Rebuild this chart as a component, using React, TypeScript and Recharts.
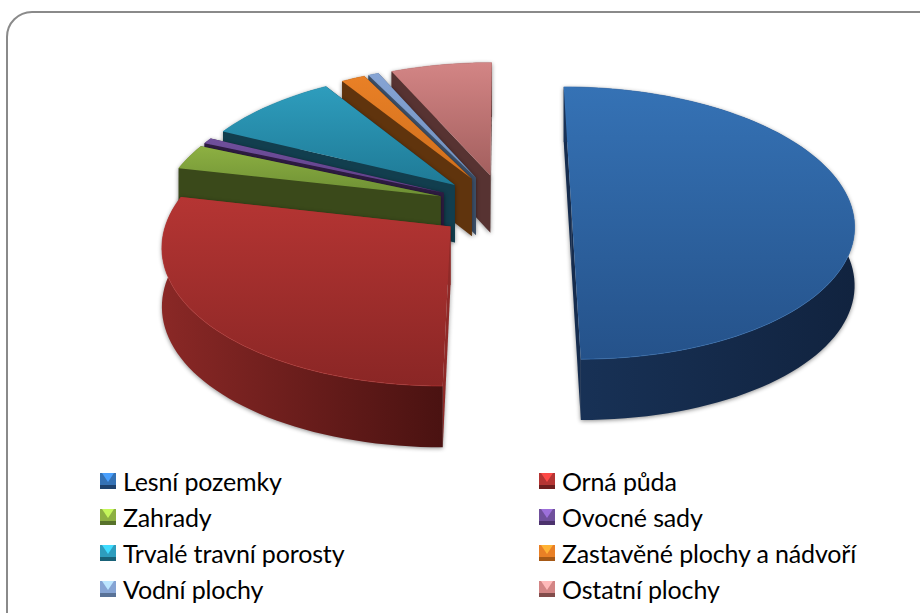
import { PieChart, Pie, Legend } from 'recharts';

const categories = [
  'Lesní pozemky',
  'Orná půda',
  'Zahrady',
  'Ovocné sady',
  'Trvalé travní porosty',
  'Zastavěné plochy a nádvoří',
  'Vodní plochy',
  'Ostatní plochy',
];
const values = [50, 28.5, 3, 0.7, 8.8, 1.6, 0.7, 6.7];

// top gradient (light, dark), wall gradient (left, right), cut face
const topLight = ['#3572b5', '#b53533', '#8db042', '#70509c', '#2e9dbd', '#e98026', '#86a4d4', '#d38585'];
const topDark = ['#25528a', '#8a2625', '#6d8f34', '#5f3f88', '#1f7a96', '#d06f1c', '#6f8fbd', '#a35f5e'];
const wallLeft = ['#183257', '#8a2826', '#3a491a', '#2e1c42', '#123e4e', '#60340d', '#3d5069', '#573332'];
const wallRight = ['#11233f', '#4a1211', '#3a491a', '#2e1c42', '#123e4e', '#60340d', '#3d5069', '#573332'];
const cutFace = ['#152c4e', '#8f2a28', '#3a491a', '#2e1c42', '#123e4e', '#60340d', '#3d5069', '#573332'];

// painted back to front, so the table runs the other way round the pie
const pieData = categories.map((name, i) => ({ name, value: values[i] })).reverse();

// fake 3D projection
const SQUASH = 0.4786;
const PERSP = 0.125;
const EXPLODE = 0.24;
const DEPTH = 58;

function Slice3D(props: any) {
  const { cx, cy, outerRadius: R, startAngle, endAngle, name } = props;
  const i = categories.indexOf(name);
  const rad = Math.PI / 180;
  const mid = ((startAngle + endAngle) / 2) * rad;
  const eu = EXPLODE * Math.cos(mid);
  const ev = -EXPLODE * Math.sin(mid);

  const project = (u: number, v: number, z: number) => {
    const den = 1 - PERSP * v;
    const x = cx + (R * u) / den;
    const y = cy + (R * SQUASH * v) / den + DEPTH * z * (1 + 0.05 * v);
    return `${x.toFixed(2)},${y.toFixed(2)}`;
  };
  const rim = (z: number) => {
    const pts: string[] = [];
    const steps = Math.max(4, Math.ceil(Math.abs(endAngle - startAngle) / 2));
    for (let s = 0; s <= steps; s++) {
      const a = (startAngle + ((endAngle - startAngle) * s) / steps) * rad;
      pts.push(project(eu + Math.cos(a), ev - Math.sin(a), z));
    }
    return pts;
  };

  const top = rim(0);
  const bottom = rim(1);
  const apexTop = project(eu, ev, 0);
  const apexBottom = project(eu, ev, 1);
  const topId = `top-${i}`;
  const wallId = `wall-${i}`;
  const poly = (pts: string[]) => `M${pts.join('L')}Z`;

  return (
    <g>
      <defs>
        <linearGradient id={topId} x1="0" y1="0" x2="0" y2="1">
          <stop offset="0%" stopColor={topLight[i]} />
          <stop offset="100%" stopColor={topDark[i]} />
        </linearGradient>
        <linearGradient id={wallId} x1="0" y1="0" x2="1" y2="0">
          <stop offset="0%" stopColor={wallLeft[i]} />
          <stop offset="100%" stopColor={wallRight[i]} />
        </linearGradient>
      </defs>
      <g style={{ filter: 'drop-shadow(0px 1px 2px rgba(0,0,0,0.45))' }}>
        <path d={poly([apexTop, top[0], bottom[0], apexBottom])} fill={cutFace[i]} />
        <path d={poly([apexTop, top[top.length - 1], bottom[bottom.length - 1], apexBottom])} fill={cutFace[i]} />
        <path d={poly([...top, ...bottom.slice().reverse()])} fill={`url(#${wallId})`} />
      </g>
      <path d={poly([apexTop, ...top])} fill={`url(#${topId})`} />
      <path d={`M${top.join('L')}`} fill="none" stroke={topLight[i]} strokeOpacity={0.6} strokeWidth={1} />
    </g>
  );
}

function LegendIcon({ i }: { i: number }) {
  return (
    <svg width={16} height={16} style={{ position: 'absolute', left: 0, top: 0 }}>
      <rect width={16} height={16} fill={topLight[i]} />
      <path d="M2,0L14,0L8,9Z" fill={topLight[i]} style={{ filter: 'brightness(1.4)' }} />
      <path d="M0,12L16,12L16,16L0,16Z" fill={topDark[i]} style={{ filter: 'brightness(0.8)' }} />
    </svg>
  );
}

const legendRows = [473, 509, 545, 581];
const legendCols = [100, 539];

function ChartLegend() {
  return (
    <div style={{ position: 'relative', width: 920, height: 613 }}>
      {categories.map((name, i) => (
        <div
          key={name}
          style={{
            position: 'absolute',
            left: legendCols[i % 2],
            top: legendRows[Math.floor(i / 2)],
            height: 16,
            whiteSpace: 'nowrap',
          }}
        >
          <LegendIcon i={i} />
          <span
            style={{
              position: 'absolute',
              left: 23,
              top: -7,
              fontFamily: 'Lato, sans-serif',
              fontSize: 25,
              lineHeight: '30px',
              color: '#000',
              letterSpacing: -0.15,
            }}
          >
            {name}
          </span>
        </div>
      ))}
    </div>
  );
}

export default function App() {
  return (
    <div style={{ position: 'absolute', left: 0, top: 0, width: 920, height: 613, overflow: 'hidden', background: '#fff' }}>
      <div
        style={{
          position: 'absolute',
          left: 6,
          top: 11,
          width: 940,
          height: 630,
          boxSizing: 'border-box',
          border: '2px solid #8a8a8a',
          borderRadius: 26,
        }}
      />
      <PieChart width={920} height={613} style={{ position: 'absolute', left: 0, top: 0 }}>
        <Pie
          data={pieData}
          dataKey="value"
          nameKey="name"
          cx={499}
          cy={201}
          innerRadius={0}
          outerRadius={280}
          startAngle={90}
          endAngle={450}
          stroke="none"
          isAnimationActive={false}
          shape={Slice3D}
        />
        <Legend
          content={() => <ChartLegend />}
          wrapperStyle={{ position: 'absolute', left: 0, top: 0, width: 920, height: 613 }}
        />
      </PieChart>
    </div>
  );
}
